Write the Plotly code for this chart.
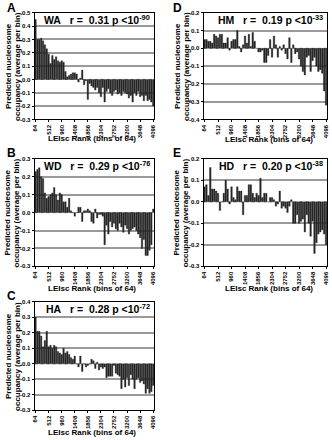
import plotly.graph_objects as go

ranks = list(range(64, 4097, 64))
tick_vals = [64, 512, 960, 1408, 1856, 2304, 2752, 3200, 3648, 4096]
tick_text = ["64", "512", "960", "1408", "1856", "2304", "2752", "3200", "3648", "4096"]

wa = [0.45, 0.30, 0.30, 0.31, 0.29, 0.26, 0.23, 0.19, 0.12, 0.18,
      0.15, 0.17, 0.14, 0.13, 0.14, 0.13, 0.06, 0.02, 0.03, 0.04,
      0.05, 0.05, 0.04, -0.02, 0.01, 0.07, -0.04, -0.01, -0.15, -0.03,
      -0.05, -0.06, -0.08, -0.06, -0.10, -0.13, -0.06, -0.17, -0.09, -0.07,
      -0.10, -0.12, -0.09, -0.08, -0.11, -0.10, -0.12, -0.09, -0.10, -0.11,
      -0.14, -0.12, -0.17, -0.10, -0.12, -0.09, -0.13, -0.12, -0.16, -0.12,
      -0.16, -0.15, -0.17, -0.20]
wd = [0.23, 0.24, 0.25, 0.20, 0.19, 0.11, 0.08, 0.09, 0.10, 0.11,
      0.14, 0.10, 0.07, 0.11, 0.10, 0.06, 0.06, 0.03, 0.08, 0.01,
      0.00, -0.02, 0.00, 0.03, 0.03, -0.05, 0.01, 0.01, 0.02, 0.01,
      -0.05, -0.06, 0.02, -0.03, -0.01, -0.01, -0.02, -0.18, -0.07, -0.12,
      -0.05, -0.08, -0.06, -0.09, -0.10, -0.06, -0.08, -0.11, -0.07, -0.09,
      -0.12, -0.10, -0.09, -0.08, -0.10, -0.12, -0.14, -0.20, -0.15, -0.24,
      -0.24, -0.21, -0.18, 0.02]
ha = [0.30, 0.21, 0.21, 0.18, 0.11, 0.15, 0.21, 0.11, 0.12, 0.10,
      0.12, 0.11, 0.08, 0.07, 0.06, 0.10, 0.07, 0.08, 0.06, 0.04,
      0.03, 0.05, 0.00, -0.02, 0.05, -0.05, 0.00, -0.02, -0.01, 0.00,
      0.03, 0.02, -0.03, 0.01, -0.04, -0.02, -0.03, -0.02, -0.09, -0.08,
      -0.08, -0.08, -0.01, -0.06, -0.07, -0.08, -0.16, -0.10, -0.15, -0.09,
      -0.14, -0.07, -0.10, -0.16, -0.10, -0.09, -0.12, -0.11, -0.13, -0.19,
      -0.16, -0.19, -0.18, -0.14]
hm = [0.05, 0.05, 0.04, 0.04, 0.03, 0.08, 0.07, 0.06, 0.08, 0.08,
      0.03, 0.03, 0.06, -0.01, 0.04, 0.05, 0.05, 0.10, 0.01, -0.02,
      0.02, 0.07, 0.03, 0.08, 0.01, 0.09, 0.04, 0.00, -0.02, -0.02,
      -0.01, -0.08, -0.08, -0.04, 0.05, -0.05, 0.07, 0.02, -0.05, 0.01,
      -0.01, 0.02, -0.03, -0.06, 0.06, -0.08, 0.02, -0.03, -0.02, -0.06,
      -0.10, -0.13, -0.15, -0.05, -0.04, -0.13, -0.07, -0.05, -0.10, -0.13,
      -0.12, -0.14, -0.24, -0.32]
hd = [0.07, 0.08, 0.03, 0.16, 0.06, 0.06, 0.05, 0.04, -0.04, 0.00,
      0.04, 0.10, 0.06, -0.01, 0.07, 0.02, 0.01, 0.07, 0.05, 0.05,
      -0.06, 0.03, 0.03, 0.08, 0.08, 0.04, 0.02, 0.04, 0.03, 0.11,
      0.02, 0.04, 0.04, 0.00, 0.02, 0.02, 0.01, -0.02, -0.01, 0.05,
      -0.03, -0.02, -0.03, -0.05, -0.02, 0.01, -0.10, -0.10, -0.06, -0.10,
      -0.09, -0.08, -0.14, -0.06, -0.10, -0.16, -0.09, -0.24, -0.19, -0.15,
      -0.14, -0.13, -0.15, -0.20]

panels = [
    dict(vals=wa, letter="A", name="WA", r="0.31", p="-90", yr=[-0.3, 0.5], box=(33, 154, 10, 118), lx=3, ly=5, t1=6, t2=15, xt=91, xty=137),
    dict(vals=wd, letter="B", name="WD", r="0.29", p="-76", yr=[-0.3, 0.3], box=(33, 154, 158, 267), lx=3, ly=152, t1=6, t2=15, xt=91, xty=289),
    dict(vals=ha, letter="C", name="HA", r="0.28", p="-72", yr=[-0.3, 0.4], box=(33, 154, 303, 413), lx=3, ly=297, t1=6, t2=15, xt=91, xty=435),
    dict(vals=hm, letter="D", name="HM", r="0.19", p="-33", yr=[-0.4, 0.2], box=(204, 329, 10, 118), lx=171, ly=5, t1=177, t2=186, xt=270, xty=138),
    dict(vals=hd, letter="E", name="HD", r="0.20", p="-38", yr=[-0.3, 0.2], box=(204, 329, 158, 267), lx=171, ly=152, t1=177, t2=186, xt=270, xty=289),
]

W, H = 332, 440
FONT = "Liberation Sans, Arial, sans-serif"


def px(x):
    return x / W


def py(y):
    return 1 - y / H


fig = go.Figure()
annotations = []
shapes = []
nb = "\u00a0"

for i, p in enumerate(panels, start=1):
    sfx = "" if i == 1 else str(i)
    x0, x1, y0, y1 = p["box"]
    fig.add_trace(go.Bar(
        x=ranks, y=p["vals"], xaxis="x" + sfx, yaxis="y" + sfx,
        marker=dict(color="#2a2a2a", line=dict(color="#111111", width=0.3)),
        showlegend=False,
    ))
    lo, hi = p["yr"]
    grid = [round(lo + 0.1 * k, 1) for k in range(int(round((hi - lo) / 0.1)) + 1)]
    grid_nz = [g for g in grid if abs(g) > 1e-9]
    fig.layout["xaxis" + sfx] = dict(
        domain=[px(x0), px(x1)], anchor="y" + sfx, range=[32, 4128],
        tickmode="array", tickvals=tick_vals, ticktext=tick_text, tickangle=-90,
        tickfont=dict(size=6, family=FONT, color="black", weight="bold"),
        showline=True, linecolor="black", linewidth=1, mirror=True,
        ticks="outside", ticklen=2, tickcolor="black", showgrid=False, zeroline=False,
    )
    fig.layout["yaxis" + sfx] = dict(
        domain=[py(y1), py(y0)], anchor="x" + sfx, range=[lo, hi],
        tickmode="array", tickvals=grid, ticktext=[f"{g:.1f}" for g in grid],
        tickfont=dict(size=6, family=FONT, color="black", weight="bold"),
        showline=True, linecolor="black", linewidth=1, mirror=True,
        ticks="outside", ticklen=2, tickcolor="black",
        showgrid=False, zeroline=False,
        minor=dict(tickmode="array", tickvals=grid_nz, showgrid=True,
                   gridcolor="#9a9a9a", gridwidth=1.5, ticks=""),
    )
    shapes.append(dict(type="line", xref=f"x{sfx} domain", yref="y" + sfx,
                       x0=0, x1=1, y0=0, y1=0,
                       line=dict(color="#888888", width=1, dash="dot"), layer="below"))
    annotations.append(dict(text=p["letter"], xref="paper", yref="paper", x=px(p["lx"]), y=py(p["ly"]),
                            xanchor="left", yanchor="middle", showarrow=False,
                            font=dict(size=12, family=FONT, color="black", weight="bold")))
    label = f"{p['name']}{nb*3}r{nb}={nb*2}{p['r']}{nb}p{nb}&lt;10<sup>{p['p']}</sup>"
    annotations.append(dict(text=label, xref="paper", yref="paper", x=px(x1 - 2), y=py(y0 + 7),
                            xanchor="right", yanchor="middle", showarrow=False,
                            font=dict(size=10.5, family=FONT, color="black", weight="bold")))
    cy = (y0 + y1) / 2
    annotations.append(dict(text="Predicted nucleosome", xref="paper", yref="paper", x=px(p["t1"]), y=py(cy),
                            xanchor="center", yanchor="middle", textangle=-90, showarrow=False,
                            font=dict(size=8, family=FONT, color="black", weight="bold")))
    annotations.append(dict(text="occupancy (average per bin)", xref="paper", yref="paper", x=px(p["t2"]), y=py(cy),
                            xanchor="center", yanchor="middle", textangle=-90, showarrow=False,
                            font=dict(size=8, family=FONT, color="black", weight="bold")))
    annotations.append(dict(text="LEIsc Rank (bins of 64)", xref="paper", yref="paper", x=px(p["xt"]), y=py(p["xty"]),
                            xanchor="center", yanchor="middle", showarrow=False,
                            font=dict(size=8, family=FONT, color="black", weight="bold")))

fig.update_layout(
    width=W, height=H, autosize=False,
    margin=dict(l=0, r=0, t=0, b=0),
    paper_bgcolor="white", plot_bgcolor="white",
    bargap=0.18, annotations=annotations, shapes=shapes,
    font=dict(family=FONT),
)

fig.write_html("out.html", config={"displayModeBar": False},
               post_script="document.body.style.margin='0';document.body.style.overflow='hidden';")
